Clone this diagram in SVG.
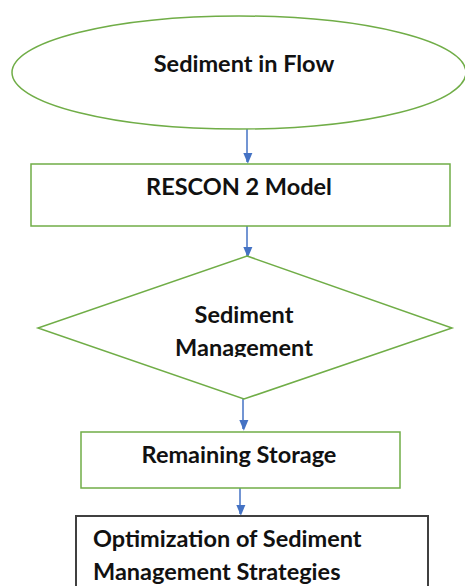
<svg xmlns="http://www.w3.org/2000/svg" width="465" height="586" viewBox="0 0 465 586">
  <defs>
    <style>
      .shape { fill: #ffffff; stroke: #70ad47; stroke-width: 1.5; }
      .box-dark { fill: #ffffff; stroke: #404040; stroke-width: 2; }
      .label { font-family: Lato, "Liberation Sans", sans-serif; font-weight: bold; font-size: 23.5px; fill: #111111; }
      .mid { text-anchor: middle; }
      .link { stroke: #4472c4; stroke-width: 1.5; fill: none; marker-end: url(#arrow); }
    </style>
    <marker id="arrow" markerWidth="11" markerHeight="13" refX="11" refY="6.5" orient="auto" markerUnits="userSpaceOnUse" viewBox="0 0 13 11">
      <path d="M0,0 L13,5.5 L0,11 Z" fill="#4472c4"/>
    </marker>
    <clipPath id="decision-clip">
      <rect x="0" y="0" width="465" height="357"/>
    </clipPath>
  </defs>
  <rect width="465" height="586" fill="#ffffff"/>

  <g id="connectors">
    <line class="link" x1="247" y1="129" x2="247" y2="162"/>
    <line class="link" x1="247" y1="226" x2="247" y2="256"/>
    <line class="link" x1="243" y1="399" x2="243" y2="429"/>
    <line class="link" x1="240" y1="488" x2="240" y2="514"/>
  </g>

  <g id="sediment-in-flow">
    <ellipse class="shape" cx="239" cy="72.5" rx="227" ry="56.5"/>
    <text class="label mid" x="244" y="72">Sediment in Flow</text>
  </g>

  <g id="rescon-model">
    <rect class="shape" x="31" y="164" width="419" height="62"/>
    <text class="label mid" x="239" y="195">RESCON 2 Model</text>
  </g>

  <g id="sediment-management">
    <polygon class="shape" points="247,256 452,328 244,399 38,328"/>
    <g clip-path="url(#decision-clip)">
      <text class="label mid" x="244" y="323">Sediment</text>
      <text class="label mid" x="244" y="356">Management</text>
    </g>
  </g>

  <g id="remaining-storage">
    <rect class="shape" x="81" y="432" width="319" height="56"/>
    <text class="label mid" x="239" y="463">Remaining Storage</text>
  </g>

  <g id="optimization">
    <rect class="box-dark" x="76" y="516" width="352" height="80"/>
    <text class="label" x="93" y="547">Optimization of Sediment</text>
    <text class="label" x="93" y="580">Management Strategies</text>
  </g>
</svg>
